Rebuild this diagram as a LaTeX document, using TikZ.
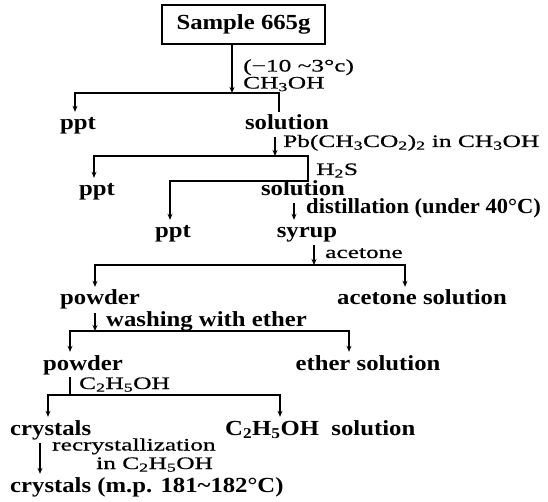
\documentclass[tikz,border=0pt]{standalone}
\usepackage{fontspec}
\setmainfont{Liberation Serif}
\newfontfamily\Rg[FakeStretch=1.45,FakeBold=0.6]{Liberation Serif}
\newfontfamily\Bd[FakeStretch=1.15]{Liberation Serif}
\newfontfamily\BdN[FakeStretch=1.05]{Liberation Serif}
\usetikzlibrary{arrows.meta}
\newcommand\meoh{CH\textsubscript{3}OH}
\newcommand\etoh{C\textsubscript{2}H\textsubscript{5}OH}
\tikzset{
  prod/.style={font=\Bd\bfseries\fontsize{21.5}{24}\selectfont, text height=15pt, text depth=5pt, inner sep=3pt, anchor=base},
  prodw/.style={prod, anchor=base west, inner xsep=0pt},
  reag/.style={font=\Rg\fontsize{17.5}{20}\selectfont, inner sep=0pt, anchor=base west},
  reagb/.style={font=\Bd\bfseries\fontsize{21.5}{24}\selectfont, inner sep=0pt, anchor=base west},
  bar/.style={line width=1.5pt, line cap=rect},
  arr/.style={line width=1.4pt, line cap=rect, -{Stealth[length=6pt,width=5pt]}},
  samplebox/.style={draw, line width=1.6pt, minimum width=163pt, minimum height=39pt, inner sep=0pt,
    font=\Bd\bfseries\fontsize{21.5}{24}\selectfont, text height=15pt, text depth=5pt}
}
\begin{document}
\begin{tikzpicture}[x=1pt,y=-1pt]
\fill[white] (0,0) rectangle (548,502);
\useasboundingbox (0,0) rectangle (548,502);
% nodes
\node[samplebox] (sample) at (243.5,24.5) {Sample 665g};
\node[reag] (c1a) at (243,71.5) {(−10 \textasciitilde3°c)};
\node[reag] (c1b) at (243,88.5) {\meoh};
\node[prod] (ppt1) at (78,130) {ppt};
\node[prod] (sol1) at (287,130) {solution};
\node[reag] (c2) at (283,147) {Pb(CH\textsubscript{3}CO\textsubscript{2})\textsubscript{2} in \meoh};
\node[reag] (c3) at (316,175) {H\textsubscript{2}S};
\node[prod] (ppt2) at (97,196) {ppt};
\node[prod] (sol2) at (303,196) {solution};
\node[reagb,font=\BdN\bfseries\fontsize{21.5}{24}\selectfont] (c4) at (306,214) {distillation (under 40°C)};
\node[prod] (ppt3) at (173,238) {ppt};
\node[prod] (syrup) at (307,238) {syrup};
\node[reag] (c5) at (325,258) {acetone};
\node[prod] (powder1) at (100,305) {powder};
\node[prod] (acsol) at (422,305) {acetone solution};
\node[reagb] (c6) at (106,326) {washing with ether};
\node[prod] (powder2) at (83,370) {powder};
\node[prod] (ethsol) at (368,370) {ether solution};
\node[reag] (c7) at (79,389) {\etoh};
\node[prodw] (crys1) at (10,435) {crystals};
\node[prodw] (etsol) at (225,435) {\etoh\ \ solution};
\node[reag] (c8a) at (52,450.5) {recrystallization};
\node[reag] (c8b) at (96,469) {in \etoh};
\node[prodw] (crys2) at (10,492) {crystals (m.p. 181\textasciitilde182°C)};
% junction coordinates
\coordinate (a1) at (232,93);
\coordinate (b1L) at (75,93);
\coordinate (b1R) at (279,93);
\coordinate (a2) at (275,156);
\coordinate (b2L) at (94,156);
\coordinate (b2R) at (308,156);
\coordinate (b3L) at (170,181);
\coordinate (b3R) at (308,181);
\coordinate (a3) at (294,0);
\coordinate (a4) at (314,265);
\coordinate (b4L) at (95,265);
\coordinate (b4R) at (405,265);
\coordinate (a5) at (95,331);
\coordinate (b5L) at (70,331);
\coordinate (b5R) at (349,331);
\coordinate (a6) at (70,395);
\coordinate (b6L) at (48,395);
\coordinate (b6R) at (280,395);
\coordinate (a7) at (40,0);
% connectors
\draw[arr] (sample.south -| a1) -- (a1);
\draw[arr] (sol1.north -| b1R) -- (b1R) -- (b1L) -- (b1L |- ppt1.north);
\draw[arr] (sol1.south -| a2) -- (a2);
\draw[arr] (b2R) -- (b2L) -- (b2L |- ppt2.north);
\draw[arr] (b2R) -- (b3R) -- (b3L) -- (b3L |- ppt3.north);
\draw[arr] (sol2.south -| a3) -- (a3 |- syrup.north);
\draw[arr] (syrup.south -| a4) -- (a4);
\draw[arr] (b4R) -- (b4L) -- (b4L |- powder1.north);
\draw[arr] (b4R) -- (b4R |- acsol.north);
\draw[arr] (powder1.south -| a5) -- (a5);
\draw[arr] (b5R) -- (b5L) -- (b5L |- powder2.north);
\draw[arr] (b5R) -- (b5R |- ethsol.north);
\draw[bar] (powder2.south -| a6) -- (a6);
\draw[arr] (b6R) -- (b6L) -- (b6L |- crys1.north);
\draw[arr] (b6R) -- (b6R |- etsol.north);
\draw[arr] (crys1.south -| a7) -- (a7 |- crys2.north);
\end{tikzpicture}
\end{document}
